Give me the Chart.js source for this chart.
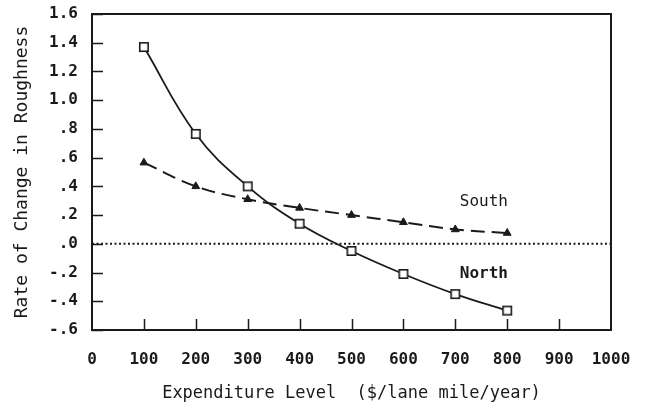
<!DOCTYPE html>
<html>
<head>
<meta charset="utf-8">
<script src="https://cdn.jsdelivr.net/npm/chart.js@4"></script>
<style>
  html, body { margin: 0; padding: 0; background: #fff; }
  #wrap { width: 647px; height: 410px; }
</style>
</head>
<body>
<div id="wrap"><canvas id="chart" width="647" height="410"></canvas></div>
<script>
// Expenditure levels ($/lane mile/year)
const expenditure = [100, 200, 300, 400, 500, 600, 700, 800];
// Rate of change in roughness
const north = [1.37, 0.765, 0.40, 0.14, -0.05, -0.21, -0.35, -0.465];
const south = [0.565, 0.40, 0.31, 0.25, 0.20, 0.15, 0.10, 0.075];

// axis ticks
const xTickValues = [0, 100, 200, 300, 400, 500, 600, 700, 800, 900, 1000];
const xTickLabels = ['0', '100', '200', '300', '400', '500', '600', '700', '800', '900', '1000'];
const yTickValues = [-0.6, -0.4, -0.2, 0, 0.2, 0.4, 0.6, 0.8, 1.0, 1.2, 1.4, 1.6];
const yTickLabels = ['-.6', '-.4', '-.2', '.0', '.2', '.4', '.6', '.8', '1.0', '1.2', '1.4', '1.6'];

// zero reference line
const refLineY = 0;

// curve labels: [text, x, y, bold]
const curveLabels = [
    ['South', 755, 0.29, false],
    ['North', 755, -0.21, true],
];

const ink = '#1a1a1a';
const mono = "'DejaVu Sans Mono', 'Liberation Mono', monospace";

// open square marker
const sq = document.createElement('canvas');
sq.width = 12; sq.height = 12;
(function () {
    const c = sq.getContext('2d');
    c.fillStyle = '#fff';
    c.fillRect(1, 1, 10, 10);
    c.strokeStyle = ink;
    c.lineWidth = 1.6;
    c.strokeRect(1.8, 1.8, 8.4, 8.4);
})();

// frame + inward tick marks + curve labels
const decorPlugin = {
    id: 'decor',
    afterDatasetsDraw(chart) {
        const { ctx, chartArea: a, scales: { x, y } } = chart;
        ctx.save();
        ctx.strokeStyle = ink;
        ctx.lineWidth = 2;
        ctx.strokeRect(a.left, a.top, a.right - a.left, a.bottom - a.top);

        ctx.lineWidth = 1.5;
        ctx.beginPath();
        yTickValues.forEach(v => {
            const py = Math.round(y.getPixelForValue(v)) + 0.5;
            ctx.moveTo(a.left, py);
            ctx.lineTo(a.left + 11, py);
        });
        xTickValues.slice(1, -1).forEach(v => {
            const px = Math.round(x.getPixelForValue(v)) + 0.5;
            ctx.moveTo(px, a.bottom);
            ctx.lineTo(px, a.bottom - 11);
        });
        ctx.stroke();

        ctx.fillStyle = ink;
        ctx.textAlign = 'center';
        ctx.textBaseline = 'middle';
        curveLabels.forEach(([t, vx, vy, bold]) => {
            ctx.font = (bold ? 'bold ' : '') + '16px ' + mono;
            ctx.fillText(t, x.getPixelForValue(vx), y.getPixelForValue(vy));
        });
        ctx.restore();
    }
};

new Chart(document.getElementById('chart'), {
    type: 'line',
    data: {
        datasets: [
            {
                label: 'North',
                data: expenditure.map((e, i) => ({ x: e, y: north[i] })),
                borderColor: ink,
                borderWidth: 1.8,
                tension: 0.4,
                pointStyle: sq,
                pointRadius: 6,
            },
            {
                label: 'South',
                data: expenditure.map((e, i) => ({ x: e, y: south[i] })),
                borderColor: ink,
                backgroundColor: ink,
                borderWidth: 2,
                borderDash: [14, 7],
                tension: 0.4,
                pointStyle: 'triangle',
                pointRadius: 4.5,
                pointBorderWidth: 1,
            },
            {
                label: 'zero',
                data: [{ x: xTickValues[0], y: refLineY }, { x: xTickValues[xTickValues.length - 1], y: refLineY }],
                borderColor: ink,
                borderWidth: 2,
                borderDash: [2, 2.5],
                pointRadius: 0,
            },
        ],
    },
    options: {
        responsive: false,
        animation: false,
        events: [],
        layout: { padding: { top: 14, right: 36, left: 0, bottom: 0 } },
        plugins: {
            legend: { display: false },
            tooltip: { enabled: false },
        },
        scales: {
            x: {
                type: 'linear',
                min: 0,
                max: 1000,
                afterBuildTicks: s => { s.ticks = xTickValues.map(v => ({ value: v })); },
                afterFit: s => { s.height = 80; s.paddingLeft = 0; s.paddingRight = 0; },
                grid: { display: false, drawTicks: false },
                border: { display: false },
                ticks: {
                    padding: 20,
                    color: ink,
                    font: { family: mono, size: 16, weight: 'bold' },
                    callback: (v, i) => xTickLabels[i],
                },
                title: {
                    display: true,
                    text: 'Expenditure Level  ($/lane mile/year)',
                    color: ink,
                    font: { family: mono, size: 17 },
                    padding: { top: 0, bottom: 6 },
                },
            },
            y: {
                min: -0.6,
                max: 1.6,
                afterBuildTicks: s => { s.ticks = yTickValues.map(v => ({ value: v })); },
                afterFit: s => { s.width = 92; s.paddingTop = 0; s.paddingBottom = 0; },
                grid: { display: false, drawTicks: false },
                border: { display: false },
                ticks: {
                    padding: 14,
                    color: ink,
                    font: { family: mono, size: 16, weight: 'bold' },
                    callback: (v, i) => yTickLabels[i],
                },
                title: {
                    display: true,
                    text: 'Rate of Change in Roughness',
                    color: ink,
                    font: { family: mono, size: 18 },
                    padding: { top: 12, bottom: 0 },
                },
            },
        },
    },
    plugins: [decorPlugin],
});
</script>
</body>
</html>
